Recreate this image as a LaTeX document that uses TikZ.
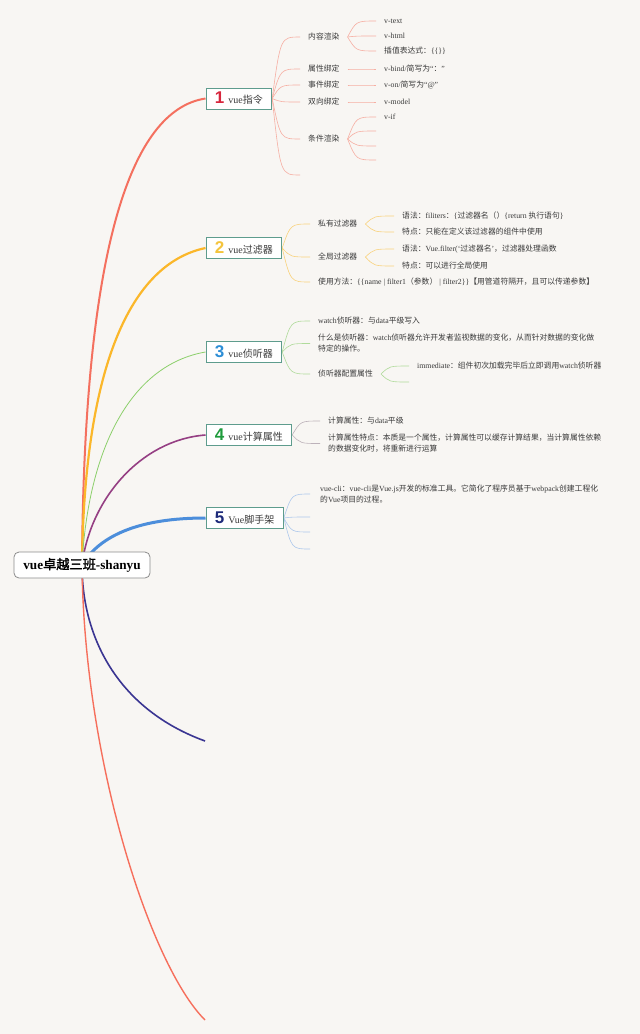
\documentclass[tikz,border=0pt]{standalone}
\usepackage{fontspec}
\setmainfont{Liberation Serif}
\newfontfamily\cjkf{Noto Sans CJK SC}[AutoFakeBold=2]
\newfontfamily\numf{Liberation Sans}
\usetikzlibrary{calc,backgrounds}
% automatic switch to the CJK font for CJK characters
\XeTeXinterchartokenstate=1
\newXeTeXintercharclass\cjkcls
\newcount\cjkcc
\cjkcc="3000 \loop \XeTeXcharclass\cjkcc=\cjkcls \advance\cjkcc by 1 \ifnum\cjkcc<"3040 \repeat
\cjkcc="4E00 \loop \XeTeXcharclass\cjkcc=\cjkcls \advance\cjkcc by 1 \ifnum\cjkcc<"A000 \repeat
\cjkcc="FF00 \loop \XeTeXcharclass\cjkcc=\cjkcls \advance\cjkcc by 1 \ifnum\cjkcc<"FFF0 \repeat
\XeTeXinterchartoks 0 \cjkcls = {\cjkf}
\XeTeXinterchartoks 4095 \cjkcls = {\cjkf}
\XeTeXinterchartoks \cjkcls 0 = {\rmfamily}
\XeTeXinterchartoks \cjkcls 4095 = {\rmfamily}
\definecolor{bg}{HTML}{F8F6F3}
\definecolor{br1}{HTML}{F4705F}
\definecolor{br2}{HTML}{FBB72A}
\definecolor{br3}{HTML}{8BCF6A}
\definecolor{br4}{HTML}{953F83}
\definecolor{br5}{HTML}{4C8EDB}
\definecolor{br6}{HTML}{3A3592}
\definecolor{br7}{HTML}{F66F5C}
\definecolor{s1}{HTML}{F6AFA3}
\definecolor{s2}{HTML}{F8D27C}
\definecolor{s3}{HTML}{B0DB9B}
\definecolor{s4}{HTML}{BDB2BA}
\definecolor{s5}{HTML}{AEC8EC}
\definecolor{n1}{HTML}{D7263D}
\definecolor{n2}{HTML}{F4C43C}
\definecolor{n3}{HTML}{2D8ED6}
\definecolor{n4}{HTML}{1F9B3C}
\definecolor{n5}{HTML}{1D2A7A}
\definecolor{boxc}{HTML}{5E9C8D}
\definecolor{rootc}{HTML}{8C8C8C}
\definecolor{txt}{HTML}{3A3A3A}
\newcommand\lnk[3]{\draw[lk,#1] let \p1=(#2), \p2=(#3) in (\p1) .. controls ({\x1+0.3*(\x2-\x1)},\y2) .. (\p2);}
\newcommand\num[2]{{\numf\bfseries\fontsize{17}{17}\selectfont\color{#1}#2}\hspace{4pt}}
\tikzset{
  sub/.style={anchor=west, inner sep=0pt, text=txt, font=\fontsize{7.8}{11}\selectfont, align=left},
  topic/.style={draw=boxc, line width=0.8pt, fill=white, anchor=west, minimum height=21pt,
    inner xsep=9pt, inner ysep=0pt, font=\fontsize{10}{12}\selectfont, text=txt},
  rootbox/.style={draw=rootc, rounded corners=5pt, fill=white, line width=0.8pt,
    minimum width=136pt, minimum height=26pt, font=\bfseries\fontsize{13.2}{15}\selectfont, text=black},
  lk/.style={line width=0.6pt},
}
\begin{document}
\begin{tikzpicture}[x=1pt,y=-1pt]
\useasboundingbox (0,0) rectangle (640,1034);
% root and topics
\node[rootbox] (root) at (82,565) {vue卓越三班-shanyu};
\node[topic] (b1) at (205.5,98.5) {\num{n1}{1}vue指令};
\node[topic] (b2) at (205.5,248) {\num{n2}{2}vue过滤器};
\node[topic] (b3) at (205.5,352) {\num{n3}{3}vue侦听器};
\node[topic] (b4) at (205.5,435) {\num{n4}{4}vue计算属性};
\node[topic] (b5) at (205.5,518) {\num{n5}{5}Vue脚手架};
\coordinate (e6) at (205,741);
\coordinate (e7) at (205,1020);
% branch 1
\node[sub] (c11) at (308,37) {内容渲染};
\node[sub] (c12) at (308,69) {属性绑定};
\node[sub] (c13) at (308,85) {事件绑定};
\node[sub] (c14) at (308,102) {双向绑定};
\node[sub] (c15) at (308,139) {条件渲染};
\coordinate (e16) at (300,175);
\node[sub] (g111) at (384,21) {v-text};
\node[sub] (g112) at (384,36) {v-html};
\node[sub] (g113) at (384,51) {插值表达式：\{\{\}\}};
\node[sub] (g121) at (384,69) {v-bind/简写为“：”};
\node[sub] (g131) at (384,85) {v-on/简写为“@”};
\node[sub] (g141) at (384,102) {v-model};
\node[sub] (g151) at (384,117) {v-if};
\coordinate (e152) at (376,131);
\coordinate (e153) at (376,146);
\coordinate (e154) at (376,160);
% branch 2
\node[sub] (c21) at (318,224) {私有过滤器};
\node[sub] (c22) at (318,257) {全局过滤器};
\node[sub] (c23) at (318,282) {使用方法：\{\{name | filter1（参数） | filter2\}\}【用管道符隔开，且可以传递参数】};
\node[sub] (g211) at (402,216) {语法：filiters：\{过滤器名（）\{return 执行语句\}};
\node[sub] (g212) at (402,232) {特点：只能在定义该过滤器的组件中使用};
\node[sub] (g221) at (402,249) {语法：Vue.filter(‘过滤器名’，过滤器处理函数};
\node[sub] (g222) at (402,266) {特点：可以进行全局使用};
% branch 3
\node[sub] (c31) at (318,321) {watch侦听器：与data平级写入};
\node[sub] (c32) at (318,343.5) {什么是侦听器：watch侦听器允许开发者监视数据的变化，从而针对数据的变化做\\特定的操作。};
\node[sub] (c33) at (318,374) {侦听器配置属性};
\node[sub] (g331) at (417,366) {immediate：组件初次加载完毕后立即调用watch侦听器};
\coordinate (e332) at (409,382);
% branch 4
\node[sub] (c41) at (328,421) {计算属性：与data平级};
\node[sub] (c42) at (328,443.5) {计算属性特点：本质是一个属性，计算属性可以缓存计算结果，当计算属性依赖\\的数据变化时，将重新进行运算};
% branch 5
\node[sub] (c51) at (320,494) {vue-cli：vue-cli是Vue.js开发的标准工具。它简化了程序员基于webpack创建工程化\\的Vue项目的过程。};
\coordinate (e52) at (310,517);
\coordinate (e53) at (310,532);
\coordinate (e54) at (310,549);
\begin{pgfonlayer}{background}
\fill[bg] (0,0) rectangle (640,1034);
% main branches
\draw[br1, line width=2pt] (root.center) .. controls (84,250) and (130,110) .. (b1.west);
\draw[br2, line width=2.2pt] (root.center) .. controls (84,380) and (125,265) .. (b2.west);
\draw[br3, line width=0.8pt] (root.center) .. controls (88,450) and (130,365) .. (b3.west);
\draw[br4, line width=1.6pt] (root.center) .. controls (90,500) and (140,440) .. (b4.west);
\draw[br5, line width=3pt] (root.center) .. controls (100,535) and (140,518) .. (b5.west);
\draw[br6, line width=1.6pt] (root.center) .. controls (82,640) and (120,710) .. (e6);
\draw[br7, line width=1.4pt] (root.center) .. controls (84,760) and (150,965) .. (e7);
% branch 1 links
\lnk{s1}{b1.east}{[xshift=-8pt]c11.west}
\lnk{s1}{b1.east}{[xshift=-8pt]c12.west}
\lnk{s1}{b1.east}{[xshift=-8pt]c13.west}
\lnk{s1}{b1.east}{[xshift=-8pt]c14.west}
\lnk{s1}{b1.east}{[xshift=-8pt]c15.west}
\lnk{s1}{b1.east}{e16}
\lnk{s1}{[xshift=8pt]c11.east}{[xshift=-8pt]g111.west}
\lnk{s1}{[xshift=8pt]c11.east}{[xshift=-8pt]g112.west}
\lnk{s1}{[xshift=8pt]c11.east}{[xshift=-8pt]g113.west}
\lnk{s1}{[xshift=8pt]c12.east}{[xshift=-8pt]g121.west}
\lnk{s1}{[xshift=8pt]c13.east}{[xshift=-8pt]g131.west}
\lnk{s1}{[xshift=8pt]c14.east}{[xshift=-8pt]g141.west}
\lnk{s1}{[xshift=8pt]c15.east}{[xshift=-8pt]g151.west}
\lnk{s1}{[xshift=8pt]c15.east}{e152}
\lnk{s1}{[xshift=8pt]c15.east}{e153}
\lnk{s1}{[xshift=8pt]c15.east}{e154}
% branch 2 links
\lnk{s2}{b2.east}{[xshift=-8pt]c21.west}
\lnk{s2}{b2.east}{[xshift=-8pt]c22.west}
\lnk{s2}{b2.east}{[xshift=-8pt]c23.west}
\lnk{s2}{[xshift=8pt]c21.east}{[xshift=-8pt]g211.west}
\lnk{s2}{[xshift=8pt]c21.east}{[xshift=-8pt]g212.west}
\lnk{s2}{[xshift=8pt]c22.east}{[xshift=-8pt]g221.west}
\lnk{s2}{[xshift=8pt]c22.east}{[xshift=-8pt]g222.west}
% branch 3 links
\lnk{s3}{b3.east}{[xshift=-8pt]c31.west}
\lnk{s3}{b3.east}{[xshift=-8pt]c32.west}
\lnk{s3}{b3.east}{[xshift=-8pt]c33.west}
\lnk{s3}{[xshift=8pt]c33.east}{[xshift=-8pt]g331.west}
\lnk{s3}{[xshift=8pt]c33.east}{e332}
% branch 4 links
\lnk{s4}{b4.east}{[xshift=-8pt]c41.west}
\lnk{s4}{b4.east}{[xshift=-8pt]c42.west}
% branch 5 links
\lnk{s5}{b5.east}{[xshift=-10pt]c51.west}
\lnk{s5}{b5.east}{e52}
\lnk{s5}{b5.east}{e53}
\lnk{s5}{b5.east}{e54}
\end{pgfonlayer}
\end{tikzpicture}
\end{document}
